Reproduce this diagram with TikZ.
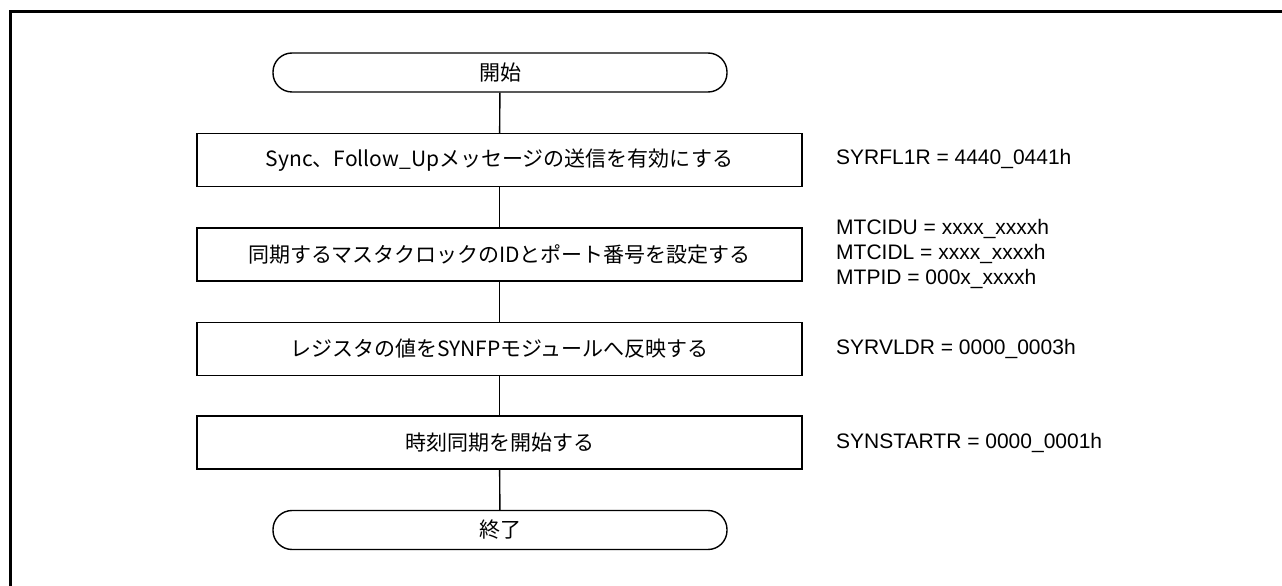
\documentclass[tikz,border=0pt]{standalone}
\usepackage{fontspec}
\setmainfont{Liberation Sans}
\newfontfamily\jpfont{Noto Sans CJK JP}
\begin{document}
\begin{tikzpicture}[x=1bp,y=-1bp,
  procbox/.style={draw,line width=1.4bp,minimum width=605bp,minimum height=53bp,inner sep=0pt,
    font=\jpfont\fontsize{21bp}{25bp}\selectfont},
  termbox/.style={draw,line width=1.4bp,rounded corners=19bp,minimum width=454bp,minimum height=39bp,inner sep=0pt,
    font=\jpfont\fontsize{21bp}{25bp}\selectfont},
  regtext/.style={anchor=west,align=left,inner sep=0pt,font=\fontsize{21bp}{25bp}\selectfont},
  conn/.style={line width=1.4bp}]
\useasboundingbox (0,0) rectangle (1282,586);
% frame (top and left edges)
\draw[line width=2.6bp] (1282,11.5) -- (10.5,11.5) -- (10.5,586);
% flow
\node[termbox] (start) at (500,72.5) {開始};
\node[procbox] (s1) at (499.5,160) {Sync、Follow\_Upメッセージの送信を有効にする};
\node[procbox] (s2) at (499.5,254.5) {同期するマスタクロックのIDとポート番号を設定する};
\node[procbox] (s3) at (499.5,349) {レジスタの値をSYNFPモジュールへ反映する};
\node[procbox] (s4) at (499.5,442.5) {時刻同期を開始する};
\node[termbox] (end) at (500,530) {終了};
\draw[conn] (start) -- (s1);
\draw[conn] (s1) -- (s2);
\draw[conn] (s2) -- (s3);
\draw[conn] (s3) -- (s4);
\draw[conn] (s4) -- (end);
% register settings
\node[regtext] (r1) at (836,159) {SYRFL1R = 4440\_0441h};
\node[regtext] (r2) at (836,253.5) {MTCIDU = xxxx\_xxxxh\\MTCIDL = xxxx\_xxxxh\\MTPID = 000x\_xxxxh};
\node[regtext] (r3) at (836,349) {SYRVLDR = 0000\_0003h};
\node[regtext] (r4) at (836,442.5) {SYNSTARTR = 0000\_0001h};
\end{tikzpicture}
\end{document}
